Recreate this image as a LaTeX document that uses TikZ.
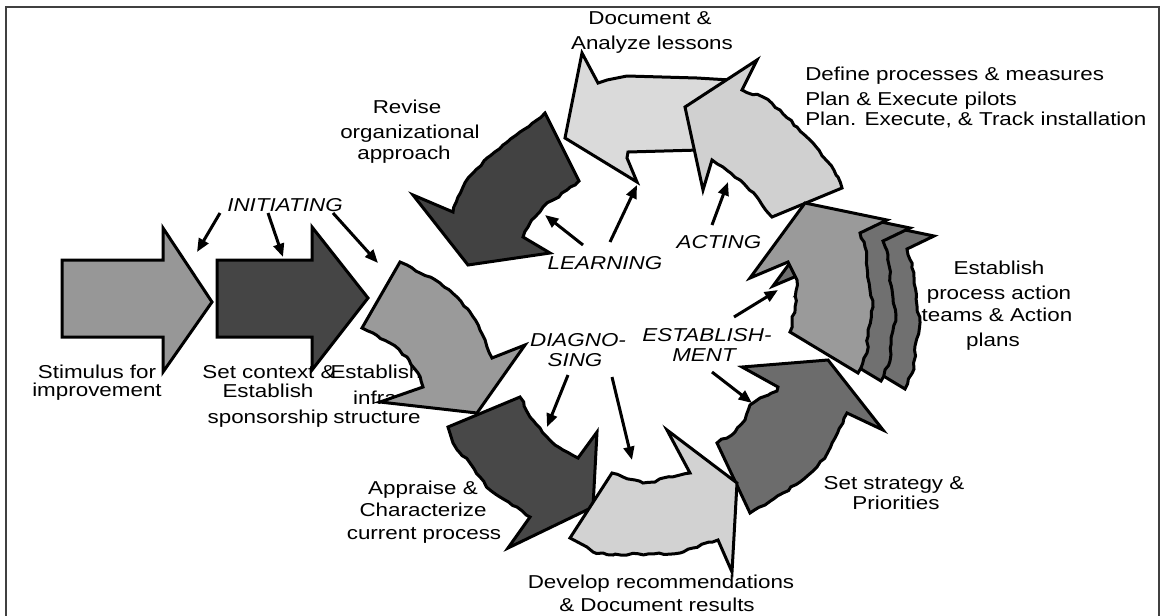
\documentclass[tikz,border=0pt]{standalone}
\usepackage{fontspec}
\setmainfont{Liberation Sans}
\usepackage{graphicx}
\usetikzlibrary{arrows.meta,decorations.pathmorphing}
\newcommand{\sx}[1]{\scalebox{1.2}[1]{#1}}
\definecolor{cstim}{HTML}{979797}
\definecolor{cctx}{HTML}{454545}
\definecolor{cinfra}{HTML}{9A9A9A}
\definecolor{crev}{HTML}{424242}
\definecolor{cdoc}{HTML}{DADADA}
\definecolor{cact}{HTML}{D0D0D0}
\definecolor{cest}{HTML}{9A9A9A}
\definecolor{cestsh}{HTML}{707070}
\definecolor{cstrat}{HTML}{6C6C6C}
\definecolor{cdev}{HTML}{D2D2D2}
\definecolor{cappr}{HTML}{484848}
\begin{document}
\pgfmathsetseed{7}
\begin{tikzpicture}[x=0.75pt,y=-0.75pt,
  lbl/.style={inner sep=0pt, anchor=base, font=\fontsize{14}{16}\selectfont},
  lblw/.style={lbl, anchor=base west},
  ilbl/.style={inner sep=0pt, anchor=base, font=\fontsize{14}{16}\selectfont\itshape},
  blob/.style={draw=black, line width=2.25pt, line join=miter, miter limit=5},
  jag/.style={decoration={random steps, segment length=4pt, amplitude=0.8pt}},
  ptr/.style={line width=2.25pt, -{Triangle[length=10pt,width=8pt]}},
  frame/.style={draw=black!75, line width=1.5pt}]
\useasboundingbox (0,0) rectangle (1160,615);
\draw[frame] (6,7) rectangle (1159,640);

% ---------- labels ----------
\node[lbl] (doc1) at (650,24) {\sx{Document \&}};
\node[lbl] (doc2) at (652,49) {\sx{Analyze lessons}};
\node[lblw] (def1) at (805,80) {\sx{Define processes \& measures}};
\node[lblw] (def2) at (805,105) {\sx{Plan \& Execute pilots}};
\node[lblw] (def3) at (805,125) {\sx{Plan. Execute, \& Track installation}};
\node[lbl] (rev1) at (407,113) {\sx{Revise}};
\node[lbl] (rev2) at (410,138) {\sx{organizational}};
\node[lbl] (rev3) at (404,159) {\sx{approach}};
\node[lbl] (est1) at (999,274) {\sx{Establish}};
\node[lbl] (est2) at (999,299) {\sx{process action}};
\node[lbl] (est3) at (997,321) {\sx{teams \& Action}};
\node[lbl] (est4) at (993,346) {\sx{plans}};
\node[lbl] (stim1) at (97,378) {\sx{Stimulus for}};
\node[lbl] (stim2) at (97,396) {\sx{improvement}};
\node[lbl] (ctx1) at (269,378) {\sx{Set context \&}};
\node[lbl] (ctx2) at (268,397) {\sx{Establish}};
\node[lbl] (ctx3) at (268,423) {\sx{sponsorship}};
\node[lbl] (inf1) at (376,378) {\sx{Establish}};
\node[lbl] (inf2) at (375,404) {\sx{infra}};
\node[lbl] (inf3) at (377,423) {\sx{structure}};
\node[lbl] (app1) at (423,494) {\sx{Appraise \&}};
\node[lbl] (app2) at (423,516) {\sx{Characterize}};
\node[lbl] (app3) at (424,539) {\sx{current process}};
\node[lbl] (str1) at (894,489) {\sx{Set strategy \&}};
\node[lbl] (str2) at (896,509) {\sx{Priorities}};
\node[lbl] (dev1) at (661,588) {\sx{Develop recommendations}};
\node[lbl] (dev2) at (657,611) {\sx{\& Document results}};
\node[ilbl] (tInit) at (285,211) {\sx{INITIATING}};
\node[ilbl] (tLearn) at (605,269) {\sx{LEARNING}};
\node[ilbl] (tAct) at (719,248) {\sx{ACTING}};
\node[ilbl] (tDiag1) at (578,346) {\sx{DIAGNO-}};
\node[ilbl] (tDiag2) at (575,366) {\sx{SING}};
\node[ilbl] (tEst1) at (707,341) {\sx{ESTABLISH-}};
\node[ilbl] (tEst2) at (704,361) {\sx{MENT}};

% ---------- straight arrows ----------
\draw[blob, fill=cstim] (62,260) -- (163,260) -- (163,228) -- (212,302) -- (163,372) -- (163,337) -- (62,337) -- cycle;
\draw[blob, fill=cctx] (217,260) -- (312,260) -- (312,227) -- (368,298) -- (312,370) -- (312,337) -- (217,337) -- cycle;

% ---------- Establish infrastructure ----------
\draw[blob, fill=cinfra] (400,262) decorate[jag]{-- (407,265) -- (420,273) -- (440,283) -- (457,297) -- (470,312) -- (480,330) -- (487,347) -- (492,358)}
  -- (525,345) -- (477,413) -- (380,402) -- (423,387)
  decorate[jag]{-- (418,373) -- (407,357) -- (390,343) -- (373,333) -- (362,328)} -- cycle;

% ---------- Revise ----------
\draw[blob, fill=crev] (545,113) -- (579,181) decorate[jag]{-- (567,190) -- (553,200) -- (543,207) -- (535,217) -- (528,227) -- (523,237)}
  -- (550,253) -- (468,265) -- (413,195) -- (453,212)
  decorate[jag]{-- (458,197) -- (463,187) -- (473,173) -- (487,158) -- (503,145) -- (520,132) -- (537,120) -- (545,113)} -- cycle;

% ---------- Document lessons ----------
\draw[blob, fill=cdoc] (582,53) -- (598,83) -- (607,80) -- (627,76) -- (697,78) -- (730,80) -- (700,150) -- (628,152) -- (627,158) -- (637,182) -- (565,138) -- cycle;

% ---------- Acting ----------
\draw[blob, fill=cact] (757,60) -- (742,90) decorate[jag]{-- (763,97) -- (780,110) -- (797,127) -- (813,143) -- (827,161) -- (838,177) -- (842,188)}
  -- (772,217) decorate[jag]{-- (757,197) -- (740,180) -- (723,167) -- (712,160)} -- (703,190) -- (685,107) -- cycle;

% ---------- Establish process action teams (with two shadows) ----------
\foreach \dx/\dy in {47/16, 23/8} {
\draw[blob, fill=cestsh, shift={(\dx,\dy)}] (805,203) -- (887,220) -- (860,233) decorate[jag]{-- (865,247) -- (867,267) -- (870,290) -- (873,307) -- (868,330) -- (867,353) -- (858,373)}
  -- (790,332) -- (792,323) -- (795,307) -- (797,280) -- (788,262) -- (750,278) -- cycle;
}
\draw[blob, fill=cest] (805,203) -- (887,220) -- (860,233) decorate[jag]{-- (865,247) -- (867,267) -- (870,290) -- (873,307) -- (868,330) -- (867,353) -- (858,373)}
  -- (790,332) decorate[jag]{-- (792,323) -- (795,307) -- (797,280)} -- (788,262) -- (750,278) -- cycle;

% ---------- Set strategy ----------
\draw[blob, fill=cstrat] (742,367) -- (778,387) decorate[jag]{-- (777,391) -- (760,398) -- (750,405) -- (745,420) -- (735,432) -- (717,443)}
  -- (750,513) decorate[jag]{-- (765,505) -- (783,493) -- (800,482) -- (817,467) -- (828,452) -- (835,438) -- (843,423) -- (847,413)}
  -- (883,430) -- (828,360) -- cycle;

% ---------- Appraise ----------
\draw[blob, fill=cappr] (448,427) -- (520,397) decorate[jag]{-- (530,417) -- (540,428) -- (547,437) -- (555,445) -- (563,450) -- (578,458)}
  -- (597,432) -- (593,507) -- (508,548) -- (530,517)
  decorate[jag]{-- (517,507) -- (505,500) -- (490,490) -- (480,477) -- (470,463) -- (460,453) -- (453,443)} -- cycle;

% ---------- Develop recommendations ----------
\draw[blob, fill=cdev] (612,473) decorate[jag]{-- (623,477) -- (635,480) -- (643,483) -- (655,482) -- (663,478) -- (680,475) -- (690,473)}
  -- (667,430) -- (737,483) -- (732,572) -- (718,540)
  decorate[jag]{-- (693,548) -- (680,553) -- (613,555) -- (593,552) -- (587,547)} -- (570,538) -- cycle;

% ---------- pointer arrows ----------
\coordinate (i1s) at (220,213); \coordinate (i1e) at (197,252);
\coordinate (i2s) at (268,213); \coordinate (i2e) at (283,257);
\coordinate (i3s) at (333,213); \coordinate (i3e) at (378,263);
\coordinate (l1s) at (583,245); \coordinate (l1e) at (545,215);
\coordinate (l2s) at (610,242); \coordinate (l2e) at (637,185);
\coordinate (a1s) at (712,225); \coordinate (a1e) at (728,182);
\coordinate (e1s) at (734,317); \coordinate (e1e) at (778,290);
\coordinate (e2s) at (712,372); \coordinate (e2e) at (752,403);
\coordinate (d1s) at (568,375); \coordinate (d1e) at (547,427);
\coordinate (d2s) at (612,377); \coordinate (d2e) at (632,460);
\foreach \a in {i1,i2,i3,l1,l2,a1,e1,e2,d1,d2} {
  \draw[ptr] (\a s) -- (\a e);
}
\end{tikzpicture}
\end{document}
